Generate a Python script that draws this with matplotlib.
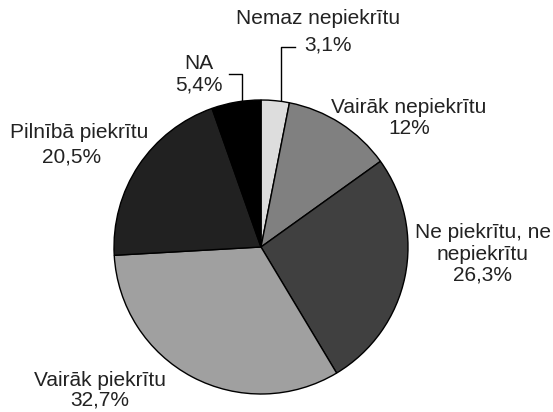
import matplotlib.pyplot as plt

plt.rcParams['font.family'] = ['Liberation Sans', 'DejaVu Sans']

kategorijas = ['Nemaz nepiekrītu', 'Vairāk nepiekrītu', 'Ne piekrītu, ne\nnepiekrītu',
               'Vairāk piekrītu', 'Pilnībā piekrītu', 'NA']
procenti = [3.1, 12.0, 26.3, 32.7, 20.5, 5.4]
proc_teksts = ['3,1%', '12%', '26,3%', '32,7%', '20,5%', '5,4%']
krasas = ['#dddddd', '#808080', '#404040', '#a0a0a0', '#212121', '#000000']

W, H = 553, 412
cx, cy, R = 261, 247, 147

fig = plt.figure(figsize=(W / 100, H / 100), dpi=100)
ax = fig.add_axes([(cx - R) / W, (H - cy - R) / H, 2 * R / W, 2 * R / H])
ax.pie(procenti, colors=krasas, startangle=90, counterclock=False,
       wedgeprops=dict(edgecolor='black', linewidth=1))
ax.set_xlim(-1, 1)
ax.set_ylim(-1, 1)
ax.set_aspect('equal')
ax.axis('off')


def d(px, py):
    return (px - cx) / R, (cy - py) / R


fs = 15
tc = '#222222'
# teksti (pikseļu pozīcijas -> datu koordinātas)
ax.text(*d(318, 18), kategorijas[0], ha='center', va='center', fontsize=fs, color=tc, clip_on=False)
ax.text(*d(328, 45), proc_teksts[0], ha='center', va='center', fontsize=fs, color=tc, clip_on=False)
ax.text(*d(409, 118), kategorijas[1] + '\n' + proc_teksts[1], ha='center', va='center',
        fontsize=fs, color=tc, linespacing=1.15, clip_on=False)
ax.text(*d(483, 254), kategorijas[2] + '\n' + proc_teksts[2], ha='center', va='center',
        fontsize=fs, color=tc, linespacing=1.15, clip_on=False)
ax.text(*d(100, 390), kategorijas[3] + '\n' + proc_teksts[3], ha='center', va='center',
        fontsize=fs, color=tc, linespacing=1.0, clip_on=False)
ax.text(*d(79, 132), kategorijas[4], ha='center', va='center', fontsize=fs, color=tc, clip_on=False)
ax.text(*d(72, 157), proc_teksts[4], ha='center', va='center', fontsize=fs, color=tc, clip_on=False)
ax.text(*d(199, 74), kategorijas[5] + '\n' + proc_teksts[5], ha='center', va='center',
        fontsize=fs, color=tc, linespacing=1.15, clip_on=False)

# norādes līnijas
x1, y1 = zip(d(281, 100), d(281, 47), d(295, 47))
ax.plot(x1, y1, color='black', linewidth=1, clip_on=False)
x2, y2 = zip(d(242, 100), d(242, 74), d(229, 74))
ax.plot(x2, y2, color='black', linewidth=1, clip_on=False)

fig.savefig('out.png', dpi=100)
